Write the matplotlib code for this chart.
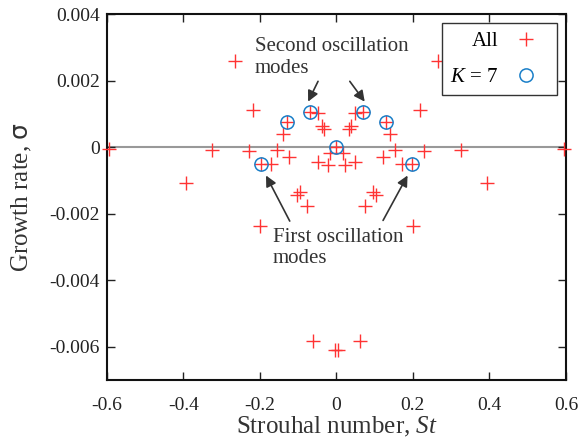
import matplotlib
matplotlib.use("Agg")
import matplotlib.pyplot as plt
import numpy as np

plt.rcParams['font.family'] = ['Liberation Serif', 'DejaVu Serif']
plt.rcParams['mathtext.fontset'] = 'custom'
plt.rcParams['mathtext.rm'] = 'Liberation Serif'
plt.rcParams['mathtext.it'] = 'Liberation Serif:italic'
plt.rcParams['mathtext.sf'] = 'DejaVu Sans'
plt.rcParams['axes.unicode_minus'] = False

# Left half (St <= 0) of the eigenvalue spectrum; the spectrum is symmetric in St
all_st_left = [-0.595, -0.393, -0.325, -0.265, -0.228, -0.219, -0.200, -0.198,
               -0.172, -0.154, -0.140, -0.129, -0.123, -0.104, -0.095, -0.076,
               -0.069, -0.061, -0.049, -0.048, -0.038, -0.032, -0.022, -0.016,
               -0.004]
all_sigma_left = [-0.00005, -0.00107, -0.00009, 0.00260, -0.00011, 0.00111,
                  -0.00237, -0.00049, -0.00049, -0.00009, 0.00040, 0.00076,
                  -0.00029, -0.00144, -0.00134, -0.00177, 0.00107, -0.00582,
                  0.00104, -0.00045, 0.00065, 0.00054, -0.00052, -0.00018,
                  -0.00610]
all_st = all_st_left + [0.0] + [-v for v in all_st_left]
all_sigma = all_sigma_left + [0.00002] + all_sigma_left

k7_st = [-0.198, -0.129, -0.069, 0.0, 0.069, 0.129, 0.198]
k7_sigma = [-0.00049, 0.00076, 0.00107, 0.00002, 0.00107, 0.00076, -0.00049]

xticks = [-0.6, -0.4, -0.2, 0, 0.2, 0.4, 0.6]
xticklabels = ['-0.6', '-0.4', '-0.2', '0', '0.2', '0.4', '0.6']
yticks = [-0.006, -0.004, -0.002, 0, 0.002, 0.004]
yticklabels = ['-0.006', '-0.004', '-0.002', '0', '0.002', '0.004']

fig = plt.figure(figsize=(5.81, 4.41), dpi=100)
ax = fig.add_axes([0.184, 0.138, 0.790, 0.830])

ax.axhline(0, color='#999999', lw=1.5, zorder=1)
ax.plot(all_st, all_sigma, linestyle='none', marker='+', color='#ff3333',
        markersize=9.5, markeredgewidth=1.0, label='All', zorder=3, clip_on=False)
ax.plot(k7_st, k7_sigma, linestyle='none', marker='o', markerfacecolor='none',
        markeredgecolor='#1a7fc8', markersize=9.5, markeredgewidth=1.1,
        label='$K$ = 7', zorder=4)

ax.set_xlim(-0.6, 0.6)
ax.set_ylim(-0.007, 0.004)
ax.set_xticks(xticks)
ax.set_xticklabels(xticklabels)
ax.set_yticks(yticks)
ax.set_yticklabels(yticklabels)
ax.tick_params(direction='in', length=6, width=1.0, top=True, right=True,
               labelsize=14, colors='#222222')
ax.tick_params(axis='x', pad=12)
ax.tick_params(axis='y', pad=5)
for s in ax.spines.values():
    s.set_linewidth(1.5)
    s.set_color('#111111')

ax.set_xlabel('Strouhal number, $St$', fontsize=18, color='#333333', labelpad=1)
ax.set_ylabel('Growth rate, $\\mathsf{\\sigma}$', fontsize=18, color='#333333', labelpad=11)

leg = ax.legend(loc='upper right', markerfirst=False, fontsize=15,
                frameon=True, fancybox=False, framealpha=1, edgecolor='#333333',
                borderaxespad=0.45, labelspacing=0.8, handletextpad=0.2,
                borderpad=0.38, handlelength=2.2)
leg.get_frame().set_linewidth(1.0)

ax.text(-0.213, 0.00330, 'Second oscillation\nmodes', fontsize=15, color='#333333',
        ha='left', va='top', linespacing=1.15)
arrow = dict(arrowstyle='-|>', color='#333333', lw=1.2, mutation_scale=16,
             shrinkA=0, shrinkB=0)
ax.annotate('', xy=(-0.074, 0.00137), xytext=(-0.048, 0.00198), arrowprops=arrow)
ax.annotate('', xy=(0.074, 0.00137), xytext=(0.035, 0.00198), arrowprops=arrow)

ax.text(-0.167, -0.00243, 'First oscillation\nmodes', fontsize=15, color='#333333',
        ha='left', va='top', linespacing=1.15)
ax.annotate('', xy=(-0.184, -0.00085), xytext=(-0.122, -0.00222), arrowprops=arrow)
ax.annotate('', xy=(0.186, -0.00085), xytext=(0.122, -0.00220), arrowprops=arrow)

fig.savefig('out.png', dpi=100)
